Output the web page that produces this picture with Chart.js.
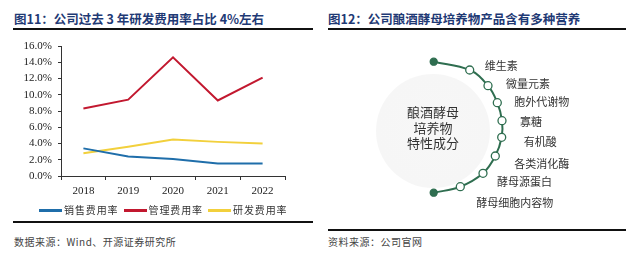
<!DOCTYPE html>
<html>
<head>
<meta charset="utf-8">
<script src="https://cdn.jsdelivr.net/npm/chart.js@4.4.0/dist/chart.umd.min.js"></script>
<style>
  body { margin: 0; background: #fff; }
  #page { position: relative; width: 626px; height: 258px; overflow: hidden; font-family: "Noto Sans CJK SC", sans-serif; }
  .title { position: absolute; top: 9px; font-size: 12.5px; font-weight: bold; color: #1f3a75; white-space: nowrap; }
  .rule { position: absolute; height: 1.5px; background: #111; }
  .source { position: absolute; top: 234px; font-size: 10px; color: #444; white-space: nowrap; letter-spacing: 0.5px; }
  .lab { position: absolute; font-size: 11px; color: #333; white-space: nowrap; line-height: 14px; }
  #centerText { position: absolute; left: 393px; top: 104px; width: 80px; text-align: center; font-size: 13px; line-height: 15.5px; color: #333; }
  #glow { position: absolute; left: 376px; top: 74px; width: 114px; height: 114px; border-radius: 50%;
          background: radial-gradient(circle, #f7f7f7 0%, #f6f6f6 70%, rgba(255,255,255,0) 100%); }
  #legend { position: absolute; left: 39px; top: 203px; white-space: nowrap; font-size: 10px; color: #333; letter-spacing: 0.9px; line-height: 14px; }
  #legend span.item { display: inline-block; margin-right: 5px; }
  #legend span.swatch { display: inline-block; width: 23px; height: 2.5px; vertical-align: middle; margin-right: 2px; position: relative; top: -1px; }
</style>
</head>
<body>
<div id="page">
  <div class="title" style="left:14px">图11：公司过去 3 年研发费用率占比 4%左右</div>
  <div class="rule" style="left:13px; width:300px; top:28px"></div>
  <div class="title" style="left:328px">图12：公司酿酒酵母培养物产品含有多种营养</div>
  <div class="rule" style="left:328px; width:298px; top:28px"></div>

  <div style="position:absolute; left:0; top:30px; width:313px; height:179px"><canvas id="lineChart"></canvas></div>
  <div id="legend"></div>

  <div id="glow"></div>
  <div style="position:absolute; left:313px; top:35px; width:313px; height:180px"><canvas id="arcChart"></canvas></div>
  <div id="centerText">酿酒酵母<br>培养物<br>特性成分</div>

  <div class="rule" style="left:13px; width:300px; top:221px"></div>
  <div class="rule" style="left:328px; width:298px; top:229px"></div>
  <div class="source" style="left:14px">数据来源：Wind、开源证券研究所</div>
  <div class="source" style="left:328px">资料来源：公司官网</div>
</div>
<script>
// left chart data
var years = ['2018', '2019', '2020', '2021', '2022'];
var salesRate = [3.4, 2.4, 2.1, 1.55, 1.55];
var adminRate = [8.3, 9.4, 14.6, 9.3, 12.1];
var rdRate = [2.8, 3.6, 4.5, 4.2, 4.0];
var seriesNames = ['销售费用率', '管理费用率', '研发费用率'];

// right diagram: nodes
var arcX = [120.7, 156.7, 175, 184.3, 189, 188.7, 182.3, 170, 147.3, 120.7];
var arcY = [26.7, 35, 50.7, 67.7, 85.7, 102.3, 121, 138.3, 151.7, 157.7];
var nutrients = ['维生素', '微量元素', '胞外代谢物', '寡糖', '有机酸', '各类消化酶', '酵母源蛋白', '酵母细胞内容物'];

var colors = ['#1f6eaa', '#c2182f', '#f2d03c'];
var serif = 'Liberation Serif, Times New Roman, serif';

var lineChart = new Chart(document.getElementById('lineChart'), {
    type: 'line',
    data: {
        labels: years,
        datasets: [salesRate, adminRate, rdRate].map(function(vals, i) {
            return {
                label: seriesNames[i],
                data: vals,
                borderColor: colors[i],
                backgroundColor: colors[i],
                borderWidth: 2,
                pointRadius: 0,
                tension: 0
            };
        })
    },
    options: {
        responsive: true,
        maintainAspectRatio: false,
        animation: false,
        layout: { padding: { left: 0, right: 28, top: 16, bottom: 6.5 } },
        plugins: {
            tooltip: { enabled: false },
            legend: { display: false }
        },
        scales: {
            x: {
                offset: true,
                grid: { offset: true, drawOnChartArea: false, tickLength: 4, color: '#333' },
                border: { color: '#333', width: 1 },
                ticks: { color: '#222', padding: 3, font: { family: serif, size: 11, lineHeight: 1.5 } }
            },
            y: {
                min: 0,
                max: 16,
                afterFit: function(scale) { scale.width = 61; },
                grid: { drawOnChartArea: false, tickLength: 3, color: '#333' },
                border: { color: '#333', width: 1 },
                ticks: {
                    stepSize: 2,
                    autoSkip: false,
                    padding: 6,
                    color: '#222',
                    font: { family: serif, size: 11 },
                    callback: function(v) { return v.toFixed(1) + '%'; }
                }
            }
        }
    }
});

// legend built from the series names and colours
var legend = document.getElementById('legend');
seriesNames.forEach(function(name, i) {
    var item = document.createElement('span');
    item.className = 'item';
    item.innerHTML = '<span class="swatch" style="background:' + colors[i] + '"></span>' + name;
    legend.appendChild(item);
});

var green = '#2f6e50';
var arcChart = new Chart(document.getElementById('arcChart'), {
    type: 'scatter',
    data: {
        datasets: [{
            data: arcX.map(function(x, i) { return { x: x, y: arcY[i] }; }),
            showLine: true,
            tension: 0.4,
            borderColor: green,
            borderWidth: 2,
            pointRadius: arcX.map(function(x, i) { return (i === 0 || i === arcX.length - 1) ? 3.5 : 4; }),
            pointBackgroundColor: arcX.map(function(x, i) { return (i === 0 || i === arcX.length - 1) ? green : '#fff'; }),
            pointBorderColor: green,
            pointBorderWidth: 1.3
        }]
    },
    options: {
        responsive: true,
        maintainAspectRatio: false,
        animation: false,
        layout: { padding: 0, autoPadding: false },
        plugins: { legend: { display: false }, tooltip: { enabled: false } },
        scales: {
            x: { type: 'linear', display: false, min: 0, max: 313 },
            y: { type: 'linear', display: false, min: 0, max: 180, reverse: true }
        }
    }
});

// labels beside the open nodes
var labelDx = [15, 18, 17, 18, 22, 19, 14, 16];
var labelDy = [-5, -3, -2, 0, 4, 7, 8, 15];
var page = document.getElementById('page');
nutrients.forEach(function(name, i) {
    var d = document.createElement('div');
    d.className = 'lab';
    d.textContent = name;
    d.style.left = (313 + arcX[i + 1] + labelDx[i]) + 'px';
    d.style.top = (35 + arcY[i + 1] + labelDy[i] - 7) + 'px';
    page.appendChild(d);
});
</script>
</body>
</html>
